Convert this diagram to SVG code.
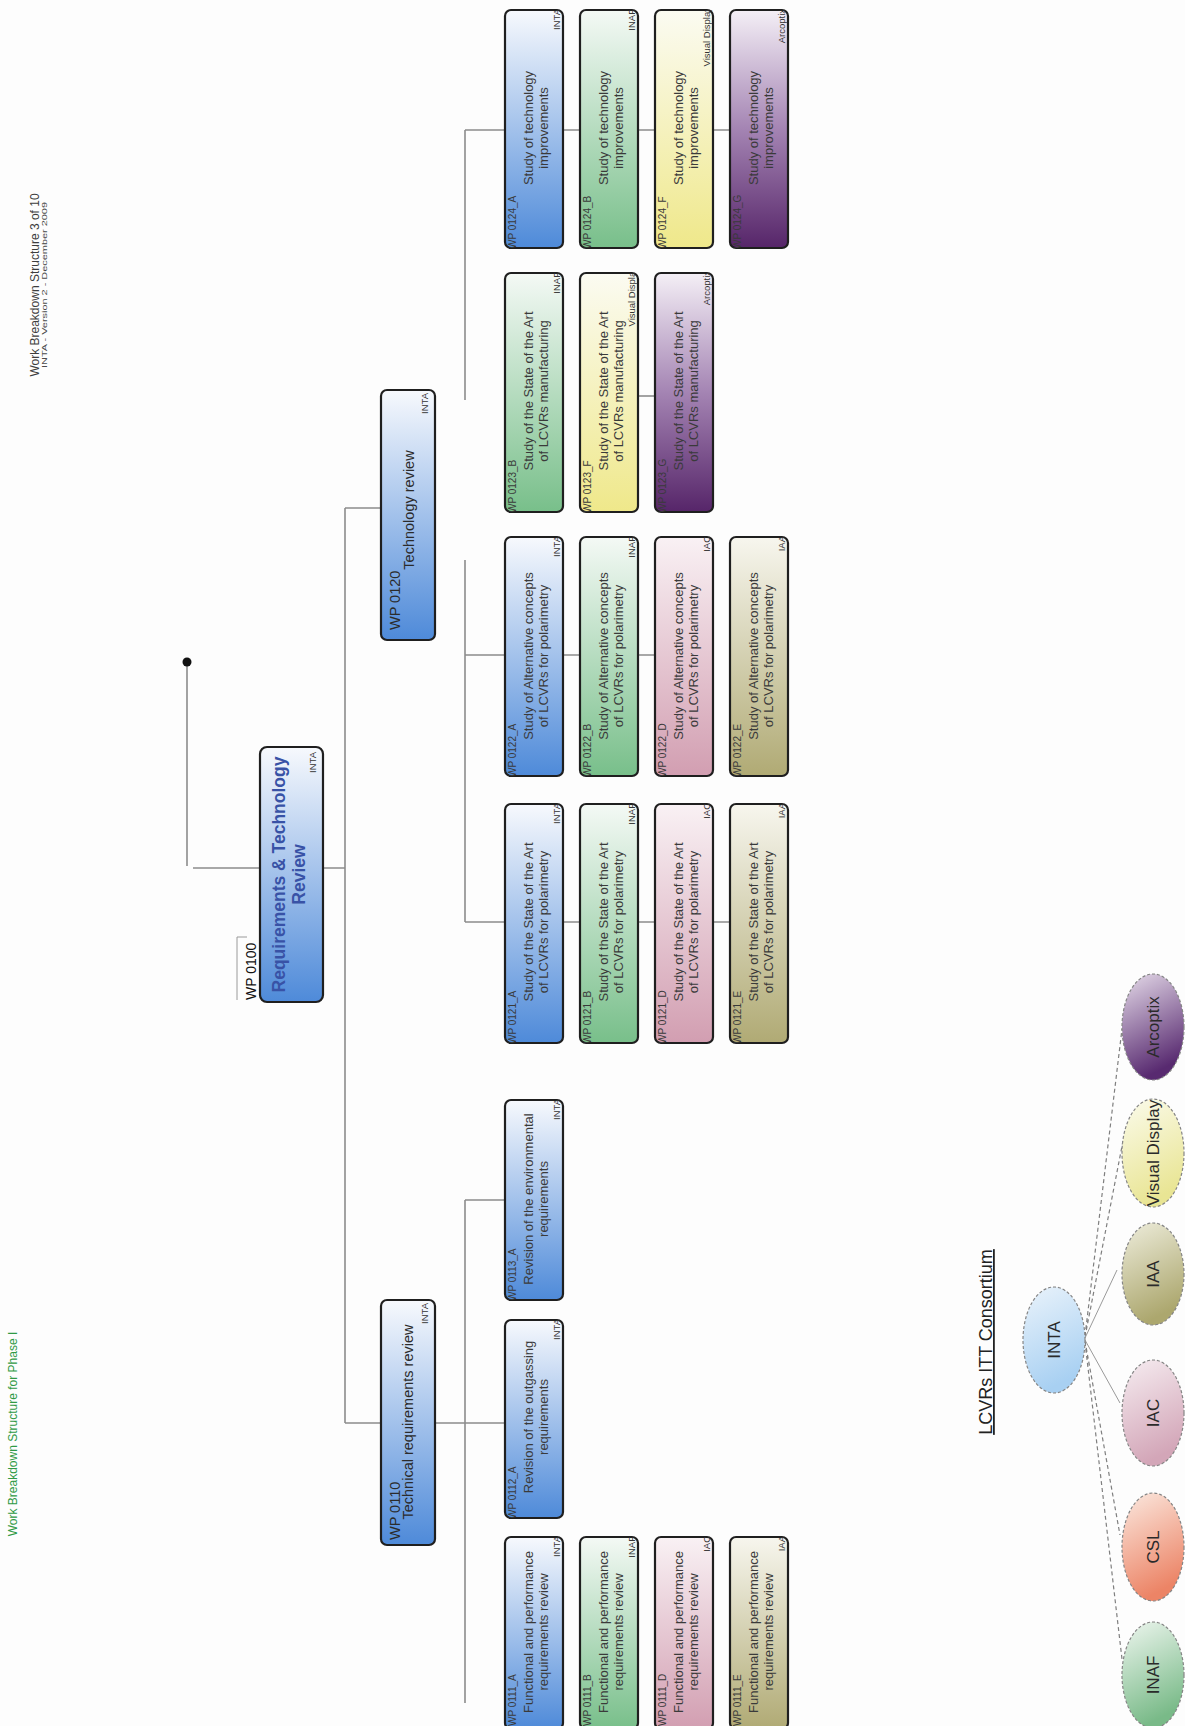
<svg xmlns="http://www.w3.org/2000/svg" width="1185" height="1726" viewBox="0 0 1185 1726">
<style>
text { font-family: "Liberation Sans", Arial, sans-serif; }
.box { stroke: #1f1f1f; stroke-width: 2.2; }
.id { font-size: 10px; fill: #3a3a3a; }
.t { font-size: 13px; fill: #3a3a3a; text-anchor: middle; }
.ag { font-size: 9.5px; fill: #333; text-anchor: end; }
.wp { font-size: 14.5px; fill: #2b2b2b; }
.wpt { font-size: 14.5px; fill: #2b2b2b; text-anchor: middle; }
.link { stroke: #8c8c8c; stroke-width: 1.6; fill: none; }
.dash { stroke: #7f7f7f; stroke-width: 1.2; stroke-dasharray: 4 3; fill: none; }
.thin { stroke: #9a9a9a; stroke-width: 1; fill: none; }
.org { stroke: #858585; stroke-width: 1.2; stroke-dasharray: 3 2; }
.ot { font-size: 17px; fill: #2a2a2a; text-anchor: middle; }
</style>
<defs>
  <linearGradient id="gBlue" x1="0" y1="0" x2="0" y2="1"><stop offset="0" stop-color="#f7f9fd"/><stop offset="1" stop-color="#4e8ad9"/></linearGradient>
  <linearGradient id="gGreen" x1="0" y1="0" x2="0" y2="1"><stop offset="0" stop-color="#f4f9f5"/><stop offset="1" stop-color="#78bf8a"/></linearGradient>
  <linearGradient id="gPink" x1="0" y1="0" x2="0" y2="1"><stop offset="0" stop-color="#f9f1f4"/><stop offset="1" stop-color="#d29eb1"/></linearGradient>
  <linearGradient id="gOlive" x1="0" y1="0" x2="0" y2="1"><stop offset="0" stop-color="#f7f6ee"/><stop offset="1" stop-color="#b0aa74"/></linearGradient>
  <linearGradient id="gYellow" x1="0" y1="0" x2="0" y2="1"><stop offset="0" stop-color="#fbfbf2"/><stop offset="1" stop-color="#efe88a"/></linearGradient>
  <linearGradient id="gPurple" x1="0" y1="0" x2="0" y2="1"><stop offset="0" stop-color="#f4eff6"/><stop offset="0.5" stop-color="#a484b3"/><stop offset="1" stop-color="#562569"/></linearGradient>
  <linearGradient id="eBlue" x1="0" y1="0" x2="0.3" y2="1"><stop offset="0" stop-color="#eaf3fb"/><stop offset="1" stop-color="#a8d0f2"/></linearGradient>
  <linearGradient id="eGreen" x1="0" y1="0" x2="0.3" y2="1"><stop offset="0" stop-color="#eef6ef"/><stop offset="1" stop-color="#79ba88"/></linearGradient>
  <linearGradient id="eOrange" x1="0" y1="0" x2="0.3" y2="1"><stop offset="0" stop-color="#fbe9e0"/><stop offset="1" stop-color="#ec8466"/></linearGradient>
  <linearGradient id="ePink" x1="0" y1="0" x2="0.3" y2="1"><stop offset="0" stop-color="#f6edf1"/><stop offset="1" stop-color="#d3a6b8"/></linearGradient>
  <linearGradient id="eOlive" x1="0" y1="0" x2="0.3" y2="1"><stop offset="0" stop-color="#eeeddc"/><stop offset="1" stop-color="#aca76e"/></linearGradient>
  <linearGradient id="eYellow" x1="0" y1="0" x2="0.3" y2="1"><stop offset="0" stop-color="#fbfbec"/><stop offset="1" stop-color="#e9e594"/></linearGradient>
  <linearGradient id="ePurple" x1="0" y1="0" x2="0.3" y2="1"><stop offset="0" stop-color="#e6dcea"/><stop offset="1" stop-color="#582a70"/></linearGradient>
</defs>

<rect width="1185" height="1726" fill="#fdfdfd"/>

<!-- page titles -->
<text transform="translate(39,285) rotate(-90)" text-anchor="middle" font-size="12" fill="#3d3d3d">Work Breakdown Structure 3 of 10</text>
<text transform="translate(47,285) rotate(-90)" text-anchor="middle" font-size="8" fill="#4a4a4a" textLength="166" lengthAdjust="spacingAndGlyphs">INTA - Version 2 - December 2009</text>
<text transform="translate(17,1434) rotate(-90)" text-anchor="middle" font-size="12" fill="#2f9a45">Work Breakdown Structure for Phase I</text>

<!-- connectors -->
<g id="connectors">
  <path class="link" d="M187,662 V866 M193,868 H259"/>
  <circle cx="187" cy="662" r="4.5" fill="#111"/>
  <path class="link" d="M323,868 H345 M345,508 V1423 M345,508 H381 M345,1423 H381"/>
  <path class="link" d="M435,1423 H505 M465,1200 V1703 M465,1200 H505"/>
  <path class="link" d="M465,130 V400 M465,130 H505 M563,130 H580 M638,130 H655 M713,130 H730"/>
  <path class="link" d="M638,396 H655"/>
  <path class="link" d="M465,560 V922 M465,655 H505 M563,655 H580 M638,655 H655"/>
  <path class="link" d="M465,922 H505 M563,922 H580 M638,922 H655 M713,922 H730"/>
  <line class="thin" x1="237" y1="937" x2="237" y2="1000"/>
  <line class="thin" x1="237" y1="937" x2="247" y2="937"/>
  <!-- consortium links -->
  <path class="dash" d="M1085,1336 L1122,1029 M1085,1337 L1123,1141 M1085,1341 L1120,1535 M1085,1342 L1122,1659"/>
  <path class="thin" d="M1085,1338 L1117,1270 M1085,1340 L1120,1403"/>
</g>

<!-- level 1 -->
<g id="wp0100">
  <rect class="box" x="260" y="747" width="63" height="255" rx="7" fill="url(#gBlue)" stroke-width="2.6"/>
  <text transform="translate(285,874.5) rotate(-90)" text-anchor="middle" font-size="17.5" font-weight="bold" fill="#3852a6">Requirements &amp; Technology</text>
  <text transform="translate(305,874.5) rotate(-90)" text-anchor="middle" font-size="17.5" font-weight="bold" fill="#3852a6">Review</text>
  <text class="ag" transform="translate(316,752) rotate(-90)">INTA</text>
  <text transform="translate(256,1000) rotate(-90)" font-size="14" fill="#111">WP 0100</text>
</g>

<!-- level 2 -->
<g id="wp0120">
  <rect class="box" x="381" y="390" width="54" height="250" rx="6" fill="url(#gBlue)"/>
  <text class="wp" transform="translate(400,630) rotate(-90)">WP 0120</text>
  <text class="wpt" transform="translate(414,510) rotate(-90)">Technology review</text>
  <text class="ag" transform="translate(428,393) rotate(-90)">INTA</text>
</g>
<g id="wp0110">
  <rect class="box" x="381" y="1300" width="54" height="245" rx="6" fill="url(#gBlue)"/>
  <text class="wp" transform="translate(400,1540) rotate(-90)">WP 0110</text>
  <text class="wpt" transform="translate(413,1422) rotate(-90)">Technical requirements review</text>
  <text class="ag" transform="translate(428,1303) rotate(-90)">INTA</text>
</g>

<!-- WP 0124 -->
<g id="wp0124a"><rect class="box" x="505" y="10" width="58" height="238" rx="6" fill="url(#gBlue)"/><svg x="505" y="10" width="58" height="238"><text class="id" transform="translate(11,239) rotate(-90)">WP 0124_A</text><text class="t" transform="translate(28,118) rotate(-90)">Study of technology</text><text class="t" transform="translate(43,118) rotate(-90)">improvements</text><text class="ag" transform="translate(55,-1) rotate(-90)">INTA</text></svg></g>
<g id="wp0124b"><rect class="box" x="580" y="10" width="58" height="238" rx="6" fill="url(#gGreen)"/><svg x="580" y="10" width="58" height="238"><text class="id" transform="translate(11,239) rotate(-90)">WP 0124_B</text><text class="t" transform="translate(28,118) rotate(-90)">Study of technology</text><text class="t" transform="translate(43,118) rotate(-90)">improvements</text><text class="ag" transform="translate(55,-1) rotate(-90)">INAF</text></svg></g>
<g id="wp0124f"><rect class="box" x="655" y="10" width="58" height="238" rx="6" fill="url(#gYellow)"/><svg x="655" y="10" width="58" height="238"><text class="id" transform="translate(11,239) rotate(-90)">WP 0124_F</text><text class="t" transform="translate(28,118) rotate(-90)">Study of technology</text><text class="t" transform="translate(43,118) rotate(-90)">improvements</text><text class="ag" transform="translate(55,-3) rotate(-90)">Visual Display</text></svg></g>
<g id="wp0124g"><rect class="box" x="730" y="10" width="58" height="238" rx="6" fill="url(#gPurple)"/><svg x="730" y="10" width="58" height="238"><text class="id" transform="translate(11,239) rotate(-90)">WP 0124_G</text><text class="t" transform="translate(28,118) rotate(-90)">Study of technology</text><text class="t" transform="translate(43,118) rotate(-90)">improvements</text><text class="ag" transform="translate(55,-1) rotate(-90)">Arcoptix</text></svg></g>

<!-- WP 0123 -->
<g id="wp0123b"><rect class="box" x="505" y="273" width="58" height="239" rx="6" fill="url(#gGreen)"/><svg x="505" y="273" width="58" height="239"><text class="id" transform="translate(11,240) rotate(-90)">WP 0123_B</text><text class="t" transform="translate(28,118) rotate(-90)">Study of the State of the Art</text><text class="t" transform="translate(43,118) rotate(-90)">of LCVRs manufacturing</text><text class="ag" transform="translate(55,-1) rotate(-90)">INAF</text></svg></g>
<g id="wp0123f"><rect class="box" x="580" y="273" width="58" height="239" rx="6" fill="url(#gYellow)"/><svg x="580" y="273" width="58" height="239"><text class="id" transform="translate(11,240) rotate(-90)">WP 0123_F</text><text class="t" transform="translate(28,118) rotate(-90)">Study of the State of the Art</text><text class="t" transform="translate(43,118) rotate(-90)">of LCVRs manufacturing</text><text class="ag" transform="translate(55,-6) rotate(-90)">Visual Display</text></svg></g>
<g id="wp0123g"><rect class="box" x="655" y="273" width="58" height="239" rx="6" fill="url(#gPurple)"/><svg x="655" y="273" width="58" height="239"><text class="id" transform="translate(11,240) rotate(-90)">WP 0123_G</text><text class="t" transform="translate(28,118) rotate(-90)">Study of the State of the Art</text><text class="t" transform="translate(43,118) rotate(-90)">of LCVRs manufacturing</text><text class="ag" transform="translate(55,-2) rotate(-90)">Arcoptix</text></svg></g>

<!-- WP 0122 -->
<g id="wp0122a"><rect class="box" x="505" y="537" width="58" height="239" rx="6" fill="url(#gBlue)"/><svg x="505" y="537" width="58" height="239"><text class="id" transform="translate(11,240) rotate(-90)">WP 0122_A</text><text class="t" transform="translate(28,119) rotate(-90)">Study of Alternative concepts</text><text class="t" transform="translate(43,119) rotate(-90)">of LCVRs for polarimetry</text><text class="ag" transform="translate(55,-1) rotate(-90)">INTA</text></svg></g>
<g id="wp0122b"><rect class="box" x="580" y="537" width="58" height="239" rx="6" fill="url(#gGreen)"/><svg x="580" y="537" width="58" height="239"><text class="id" transform="translate(11,240) rotate(-90)">WP 0122_B</text><text class="t" transform="translate(28,119) rotate(-90)">Study of Alternative concepts</text><text class="t" transform="translate(43,119) rotate(-90)">of LCVRs for polarimetry</text><text class="ag" transform="translate(55,-1) rotate(-90)">INAF</text></svg></g>
<g id="wp0122d"><rect class="box" x="655" y="537" width="58" height="239" rx="6" fill="url(#gPink)"/><svg x="655" y="537" width="58" height="239"><text class="id" transform="translate(11,240) rotate(-90)">WP 0122_D</text><text class="t" transform="translate(28,119) rotate(-90)">Study of Alternative concepts</text><text class="t" transform="translate(43,119) rotate(-90)">of LCVRs for polarimetry</text><text class="ag" transform="translate(55,-1) rotate(-90)">IAC</text></svg></g>
<g id="wp0122e"><rect class="box" x="730" y="537" width="58" height="239" rx="6" fill="url(#gOlive)"/><svg x="730" y="537" width="58" height="239"><text class="id" transform="translate(11,240) rotate(-90)">WP 0122_E</text><text class="t" transform="translate(28,119) rotate(-90)">Study of Alternative concepts</text><text class="t" transform="translate(43,119) rotate(-90)">of LCVRs for polarimetry</text><text class="ag" transform="translate(55,-1) rotate(-90)">IAA</text></svg></g>

<!-- WP 0121 -->
<g id="wp0121a"><rect class="box" x="505" y="804" width="58" height="239" rx="6" fill="url(#gBlue)"/><svg x="505" y="804" width="58" height="239"><text class="id" transform="translate(11,240) rotate(-90)">WP 0121_A</text><text class="t" transform="translate(28,118) rotate(-90)">Study of the State of the Art</text><text class="t" transform="translate(43,118) rotate(-90)">of LCVRs for polarimetry</text><text class="ag" transform="translate(55,-1) rotate(-90)">INTA</text></svg></g>
<g id="wp0121b"><rect class="box" x="580" y="804" width="58" height="239" rx="6" fill="url(#gGreen)"/><svg x="580" y="804" width="58" height="239"><text class="id" transform="translate(11,240) rotate(-90)">WP 0121_B</text><text class="t" transform="translate(28,118) rotate(-90)">Study of the State of the Art</text><text class="t" transform="translate(43,118) rotate(-90)">of LCVRs for polarimetry</text><text class="ag" transform="translate(55,-1) rotate(-90)">INAF</text></svg></g>
<g id="wp0121d"><rect class="box" x="655" y="804" width="58" height="239" rx="6" fill="url(#gPink)"/><svg x="655" y="804" width="58" height="239"><text class="id" transform="translate(11,240) rotate(-90)">WP 0121_D</text><text class="t" transform="translate(28,118) rotate(-90)">Study of the State of the Art</text><text class="t" transform="translate(43,118) rotate(-90)">of LCVRs for polarimetry</text><text class="ag" transform="translate(55,-1) rotate(-90)">IAC</text></svg></g>
<g id="wp0121e"><rect class="box" x="730" y="804" width="58" height="239" rx="6" fill="url(#gOlive)"/><svg x="730" y="804" width="58" height="239"><text class="id" transform="translate(11,240) rotate(-90)">WP 0121_E</text><text class="t" transform="translate(28,118) rotate(-90)">Study of the State of the Art</text><text class="t" transform="translate(43,118) rotate(-90)">of LCVRs for polarimetry</text><text class="ag" transform="translate(55,-1) rotate(-90)">IAA</text></svg></g>

<!-- WP 0113 / 0112 -->
<g id="wp0113a"><rect class="box" x="505" y="1100" width="58" height="200" rx="6" fill="url(#gBlue)"/><svg x="505" y="1100" width="58" height="200"><text class="id" transform="translate(11,201) rotate(-90)">WP 0113_A</text><text class="t" transform="translate(28,99) rotate(-90)">Revision of the environmental</text><text class="t" transform="translate(43,99) rotate(-90)">requirements</text><text class="ag" transform="translate(55,-1) rotate(-90)">INTA</text></svg></g>
<g id="wp0112a"><rect class="box" x="505" y="1320" width="58" height="198" rx="6" fill="url(#gBlue)"/><svg x="505" y="1320" width="58" height="198"><text class="id" transform="translate(11,199) rotate(-90)">WP 0112_A</text><text class="t" transform="translate(28,97) rotate(-90)">Revision of the outgassing</text><text class="t" transform="translate(43,97) rotate(-90)">requirements</text><text class="ag" transform="translate(55,-1) rotate(-90)">INTA</text></svg></g>

<!-- WP 0111 -->
<g id="wp0111a"><rect class="box" x="505" y="1537" width="58" height="192" rx="6" fill="url(#gBlue)"/><svg x="505" y="1537" width="58" height="192"><text class="id" transform="translate(11,189) rotate(-90)">WP 0111_A</text><text class="t" transform="translate(28,95) rotate(-90)">Functional and performance</text><text class="t" transform="translate(43,95) rotate(-90)">requirements review</text><text class="ag" transform="translate(55,-1) rotate(-90)">INTA</text></svg></g>
<g id="wp0111b"><rect class="box" x="580" y="1537" width="58" height="192" rx="6" fill="url(#gGreen)"/><svg x="580" y="1537" width="58" height="192"><text class="id" transform="translate(11,189) rotate(-90)">WP 0111_B</text><text class="t" transform="translate(28,95) rotate(-90)">Functional and performance</text><text class="t" transform="translate(43,95) rotate(-90)">requirements review</text><text class="ag" transform="translate(55,-1) rotate(-90)">INAF</text></svg></g>
<g id="wp0111d"><rect class="box" x="655" y="1537" width="58" height="192" rx="6" fill="url(#gPink)"/><svg x="655" y="1537" width="58" height="192"><text class="id" transform="translate(11,189) rotate(-90)">WP 0111_D</text><text class="t" transform="translate(28,95) rotate(-90)">Functional and performance</text><text class="t" transform="translate(43,95) rotate(-90)">requirements review</text><text class="ag" transform="translate(55,-1) rotate(-90)">IAC</text></svg></g>
<g id="wp0111e"><rect class="box" x="730" y="1537" width="58" height="192" rx="6" fill="url(#gOlive)"/><svg x="730" y="1537" width="58" height="192"><text class="id" transform="translate(11,189) rotate(-90)">WP 0111_E</text><text class="t" transform="translate(28,95) rotate(-90)">Functional and performance</text><text class="t" transform="translate(43,95) rotate(-90)">requirements review</text><text class="ag" transform="translate(55,-1) rotate(-90)">IAA</text></svg></g>

<!-- consortium -->
<text transform="translate(992,1342) rotate(-90)" text-anchor="middle" font-size="18" fill="#222" text-decoration="underline">LCVRs ITT Consortium</text>
<g id="org-inta"><ellipse class="org" cx="1054" cy="1340" rx="31" ry="53" fill="url(#eBlue)"/><text class="ot" transform="translate(1060,1340) rotate(-90)">INTA</text></g>
<g id="org-arcoptix"><ellipse class="org" cx="1153" cy="1027" rx="31" ry="53" fill="url(#ePurple)"/><text class="ot" transform="translate(1159,1027) rotate(-90)">Arcoptix</text></g>
<g id="org-visual"><ellipse class="org" cx="1153" cy="1153" rx="31" ry="54" fill="url(#eYellow)"/><text class="ot" transform="translate(1159,1153) rotate(-90)">Visual Display</text></g>
<g id="org-iaa"><ellipse class="org" cx="1153" cy="1274" rx="31" ry="51" fill="url(#eOlive)"/><text class="ot" transform="translate(1159,1274) rotate(-90)">IAA</text></g>
<g id="org-iac"><ellipse class="org" cx="1153" cy="1413" rx="31" ry="53" fill="url(#ePink)"/><text class="ot" transform="translate(1159,1413) rotate(-90)">IAC</text></g>
<g id="org-csl"><ellipse class="org" cx="1153" cy="1547" rx="31" ry="54" fill="url(#eOrange)"/><text class="ot" transform="translate(1159,1547) rotate(-90)">CSL</text></g>
<g id="org-inaf"><ellipse class="org" cx="1153" cy="1675" rx="31" ry="53" fill="url(#eGreen)"/><text class="ot" transform="translate(1159,1675) rotate(-90)">INAF</text></g>
</svg>
